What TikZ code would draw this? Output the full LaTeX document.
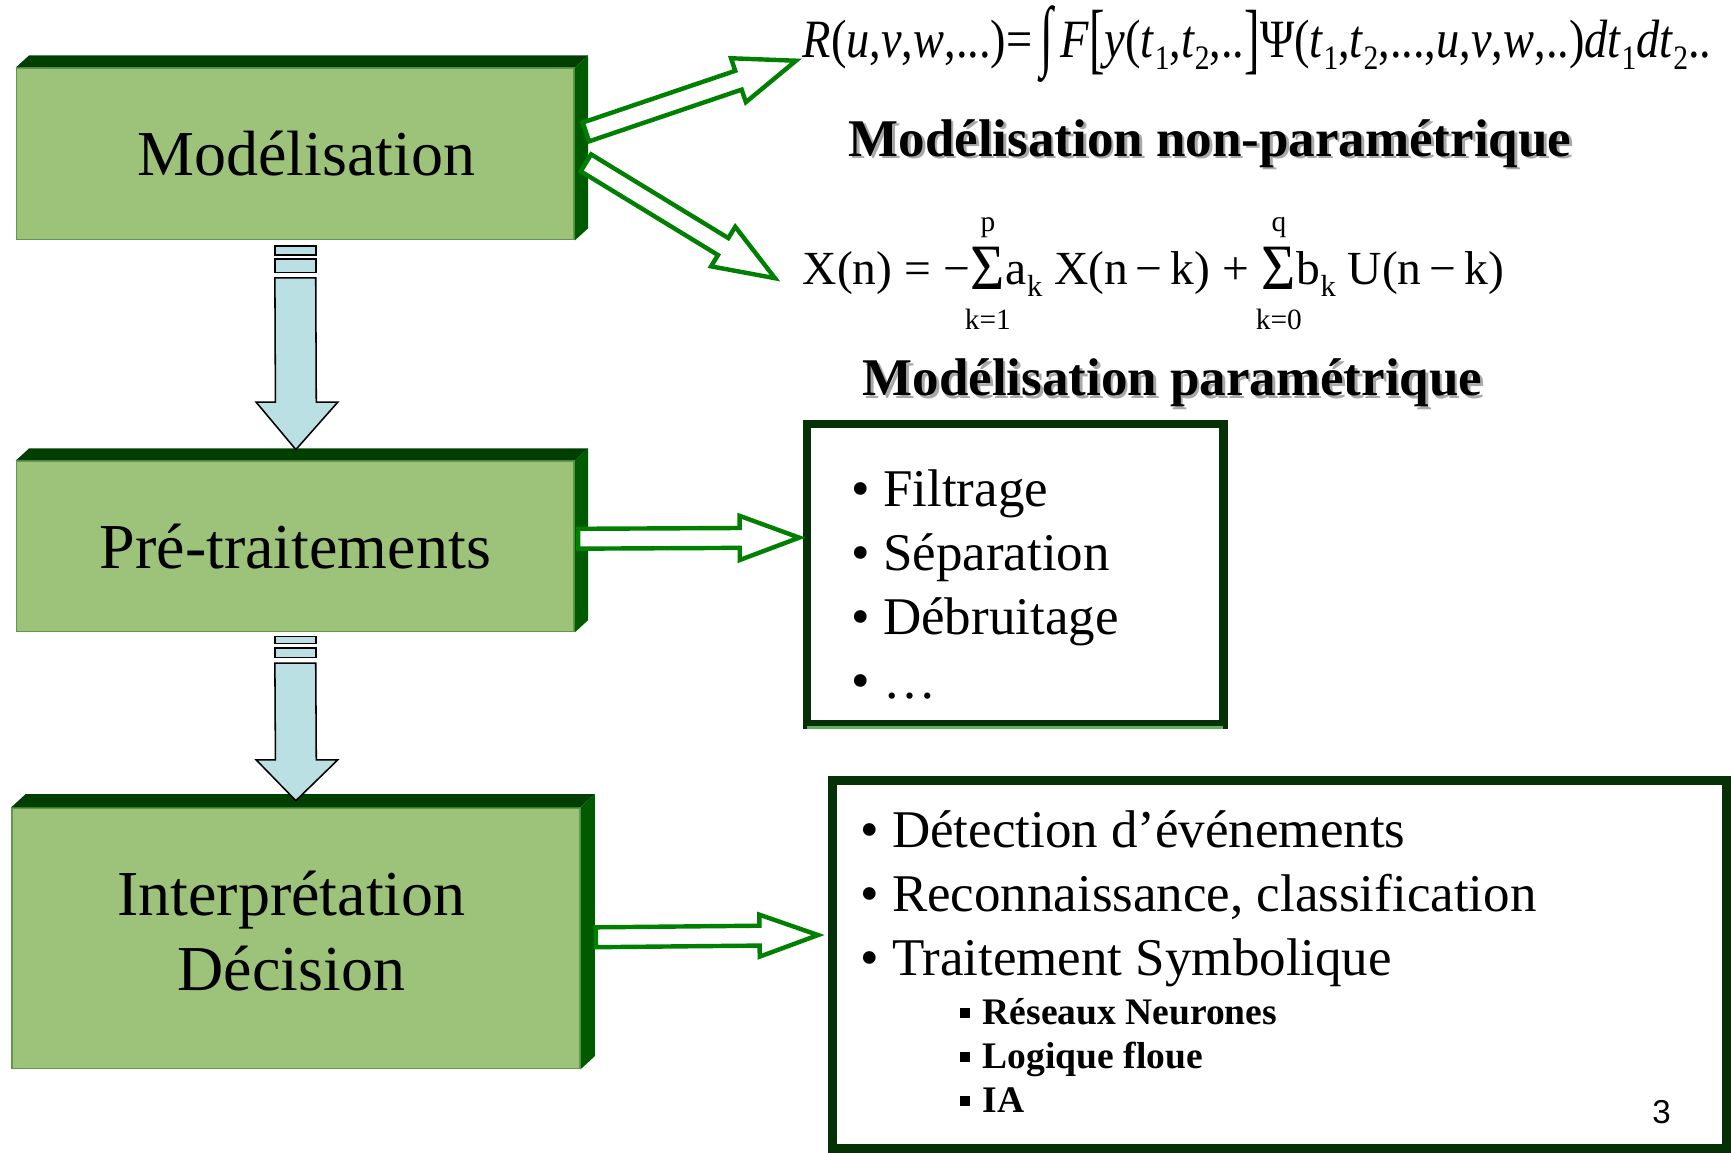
\documentclass[tikz,border=0pt]{standalone}
\usepackage{graphicx}
\usepackage{fontspec}
\setmainfont{Liberation Serif}
\newfontfamily\arialf{Liberation Sans}
\usetikzlibrary{calc}
\definecolor{boxfill}{HTML}{9DC37A}
\definecolor{boxline}{HTML}{5E9A45}
\definecolor{topface}{HTML}{003F00}
\definecolor{sideface}{HTML}{005A00}
\definecolor{flowblue}{HTML}{BAE0E4}
\definecolor{arrowgreen}{HTML}{008000}
\definecolor{framegreen}{HTML}{063006}
\definecolor{framelight}{HTML}{5FB35F}
\definecolor{shadowgray}{HTML}{A8A8A8}
\newcommand\sbx[1]{\raisebox{-0.22em}{\upshape\fontsize{28}{28}\selectfont #1}}
\newcommand\sbk{\raisebox{-0.25em}{\fontsize{27}{27}\selectfont k}}
\newcommand\tallsym[3]{\raisebox{#2}{\scalebox{#3}[1.45]{#1}}}
\newcommand\limtext[1]{\fontsize{26}{26}\selectfont #1}
\newcommand\sumlim[2]{\makebox[32pt][c]{%
  \makebox[0pt][c]{\raisebox{47pt}{\limtext{#1}}}%
  \makebox[0pt][c]{\raisebox{-40pt}{\limtext{#2}}}%
  \makebox[0pt][c]{\raisebox{-4pt}{\scalebox{1}[1.1]{\fontsize{52}{52}\selectfont Σ}}}}}
\newcommand\shadowed[1]{\makebox[0pt][l]{\hspace{2.5pt}\raisebox{-2.5pt}{\color{shadowgray}#1}}#1}
\newcommand\sqb{\rule[6pt]{9pt}{9pt}\hspace{12pt}}
\newcommand\fatarrow[5]{%
  \coordinate (hb) at ($(#2)!#5!(#1)$);
  \draw[fatarrowstyle] ($(#1)!#3!90:(#2)$) -- ($(hb)!#3!90:(#2)$) -- ($(hb)!#4!90:(#2)$) -- (#2)
    -- ($(hb)!#4!-90:(#2)$) -- ($(hb)!#3!-90:(#2)$) -- ($(#1)!#3!-90:(#2)$) -- cycle;}
\newcommand\bevel[3]{%
  \fill[topface] (#1.north west) -- ++(#2,-#3) -- ($(#1.north east)+(#2,-#3)$) -- (#1.north east) -- cycle;
  \fill[sideface] (#1.north east) -- ++(#2,-#3) -- ($(#1.south east)+(#2,-#3)$) -- (#1.south east) -- cycle;}
\tikzset{
  gbox/.style={draw=boxline, line width=1.5pt, fill=boxfill, inner sep=0pt, align=center,
    font=\fontsize{58}{68}\selectfont},
  framebox/.style={draw=framegreen, line width=8pt, fill=white, inner sep=0pt},
  itemtext/.style={inner sep=0pt, anchor=base west, font=\fontsize{48}{58}\selectfont},
  subtext/.style={inner sep=0pt, anchor=base west, font=\fontsize{34}{40}\selectfont\bfseries},
  headtext/.style={inner sep=0pt, font=\fontsize{48}{58}\selectfont\bfseries},
  formula/.style={inner sep=0pt, anchor=west},
  fatarrowstyle/.style={draw=arrowgreen, line width=4pt, fill=white, line join=miter},
  blockarrow/.style={draw=black, line width=1.4pt, fill=flowblue, line join=miter}
}
\begin{document}
\begin{tikzpicture}[x=1pt, y=-1pt]
\useasboundingbox (0,0) rectangle (1568,1044);
\fill[white] (0,0) rectangle (1568,1044);

% green 3D boxes
\node[gbox, minimum width=505pt, minimum height=155pt] (mod) at (267.5,139.5) {\hspace*{20pt}Modélisation};
\bevel{mod}{12}{11}
\node[gbox, minimum width=505pt, minimum height=154pt] (pre) at (267.5,495) {Pré-traitements};
\bevel{pre}{12}{11}
\node[gbox, minimum width=514pt, minimum height=236pt] (dec) at (268,850)
  {\raisebox{5pt}{\begin{tabular}{@{}c@{}}Interprétation\\Décision\end{tabular}}\hspace*{8pt}};
\bevel{dec}{13}{12}

% blue block arrows
\coordinate (s1) at (mod.south);
\coordinate (t1) at ($(pre.north)+(0.5,-10)$);
\draw[blockarrow] ($(s1)+(-18.5,5)$) rectangle ($(s1)+(18.5,13)$);
\draw[blockarrow] ($(s1)+(-18.5,17)$) rectangle ($(s1)+(18.5,29)$);
\draw[blockarrow] ($(s1)+(-18.5,34)$) -- ($(s1)+(18.5,34)$) -- ($(t1)+(18.5,-43)$) -- ($(t1)+(38,-43)$)
  -- (t1) -- ($(t1)+(-36,-43)$) -- ($(t1)+(-18.5,-43)$) -- cycle;
\coordinate (s2) at (pre.south);
\coordinate (t2) at ($(dec.north)+(0,-6)$);
\draw[blockarrow] ($(s2)+(-18.5,4)$) rectangle ($(s2)+(18.5,10)$);
\draw[blockarrow] ($(s2)+(-18.5,14)$) rectangle ($(s2)+(18.5,23)$);
\draw[blockarrow] ($(s2)+(-18.5,28)$) -- ($(s2)+(18.5,28)$) -- ($(t2)+(18.5,-37)$) -- ($(t2)+(38,-37)$)
  -- (t2) -- ($(t2)+(-36,-37)$) -- ($(t2)+(-18.5,-37)$) -- cycle;

% formulas and headings
\node[formula] (f1) at (727,40) {\resizebox{823pt}{!}{\scalebox{0.86}[1]{\fontsize{44}{48}\selectfont
  \textit{R}(\textit{u},\textit{v},\textit{w},...)=\,\tallsym{∫}{-3pt}{1}\,\textit{F}\tallsym{[}{-5pt}{1}\textit{y}(\textit{t}\sbx{1},\textit{t}\sbx{2},..\tallsym{]}{-5pt}{1}Ψ(\textit{t}\sbx{1},\textit{t}\sbx{2},...,\textit{u},\textit{v},\textit{w},..)\textit{dt}\sbx{1}\textit{dt}\sbx{2}..}}};
\node[headtext] (h1) at (1096,131) {\shadowed{Modélisation non-paramétrique}};
\node[formula] (f2) at (727,248) {\resizebox{635pt}{!}{\fontsize{42}{48}\selectfont
  X(n) = −\sumlim{p}{k=1}a\sbk\ X(n\,−\,k) + \sumlim{q}{k=0}b\sbk\ U(n\,−\,k)}};
\node[headtext] (h2) at (1062,348) {\shadowed{Modélisation paramétrique}};

% list boxes
\node[framebox, minimum width=377pt, minimum height=272pt] (lst) at (919.5,520) {};
\draw[framelight, line width=2pt] ($(lst.south west)+(4,-1)$) -- ($(lst.south east)+(-4,-1)$);
\node[itemtext] (l1) at (771,459) {• Filtrage};
\node[itemtext] (l2) at (771,517) {• Séparation};
\node[itemtext] (l3) at (771,575) {• Débruitage};
\node[itemtext] (l4) at (771,633) {• …};

\node[framebox, minimum width=810pt, minimum height=333pt] (res) at (1159,873.5) {};
\node[itemtext] (r1) at (779,768) {• Détection d’événements};
\node[itemtext] (r2) at (779,826) {• Reconnaissance, classification};
\node[itemtext] (r3) at (779,884) {• Traitement Symbolique};
\node[subtext] (q1) at (869,928) {\sqb Réseaux Neurones};
\node[subtext] (q2) at (869,968) {\sqb Logique floue};
\node[subtext] (q3) at (869,1008) {\sqb IA};
\node[inner sep=0pt, font=\arialf\fontsize{30}{30}\selectfont] (pg) at (1505,1007) {3};

% green outline arrows
\coordinate (a1) at ($(mod.east)+(10,-20)$);
\coordinate (b1) at ($(f1.west)+(-6,15)$);
\fatarrow{a1}{b1}{9pt}{21pt}{55pt}
\coordinate (a2) at ($(mod.east)+(10,8)$);
\coordinate (b2) at ($(f2.west)+(-25,4)$);
\fatarrow{a2}{b2}{9pt}{21pt}{55pt}
\coordinate (a3) at ($(pre.east)+(3,-7)$);
\coordinate (b3) at ($(lst.west)+(-3,-33)$);
\fatarrow{a3}{b3}{9pt}{20pt}{54pt}
\coordinate (a4) at ($(dec.east)+(14,-1)$);
\coordinate (b4) at ($(res.west)+(-9,-26.5)$);
\fatarrow{a4}{b4}{9pt}{19pt}{53pt}
\end{tikzpicture}
\end{document}
